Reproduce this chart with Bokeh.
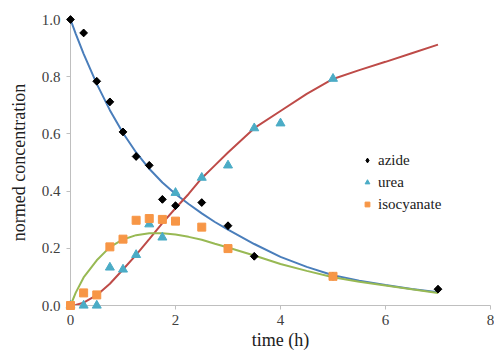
import math
from bokeh.plotting import figure
from bokeh.models import Legend, LegendItem, FixedTicker, NumeralTickFormatter, Range1d
from bokeh.embed import file_html
from bokeh.resources import INLINE

# measured data
t_azide = [0, 0.25, 0.5, 0.75, 1.0, 1.25, 1.5, 1.75, 2.0, 2.5, 3.0, 3.5, 5.0, 7.0]
azide = [1.0, 0.953, 0.784, 0.712, 0.607, 0.521, 0.49, 0.371, 0.349, 0.36, 0.279, 0.172, 0.102, 0.057]

t_urea = [0, 0.25, 0.5, 0.75, 1.0, 1.25, 1.5, 1.75, 2.0, 2.5, 3.0, 3.5, 4.0, 5.0]
urea = [0.0, 0.0, 0.0, 0.133, 0.126, 0.177, 0.284, 0.238, 0.394, 0.447, 0.49, 0.62, 0.637, 0.793]

t_iso = [0, 0.25, 0.5, 0.75, 1.0, 1.25, 1.5, 1.75, 2.0, 2.5, 3.0, 5.0]
iso = [0.0, 0.044, 0.037, 0.205, 0.232, 0.298, 0.304, 0.301, 0.295, 0.274, 0.199, 0.102]

# fitted curves
t_fit = [0, 0.1, 0.25, 0.5, 0.75, 1.0, 1.25, 1.5, 1.75, 2.0, 2.25, 2.5, 2.75, 3.0,
         3.5, 4.0, 4.5, 5.0, 5.5, 6.0, 6.5, 7.0]
fit_azide = [1.0, 0.95, 0.88, 0.775, 0.683, 0.603, 0.535, 0.478, 0.43, 0.39, 0.355,
             0.322, 0.292, 0.265, 0.215, 0.17, 0.135, 0.106, 0.087, 0.072, 0.058, 0.046]
fit_urea = [0.0, 0.002, 0.01, 0.036, 0.076, 0.126, 0.177, 0.232, 0.288, 0.34, 0.39,
            0.445, 0.49, 0.535, 0.62, 0.68, 0.74, 0.792, 0.823, 0.852, 0.882, 0.912]
fit_iso = [0.0, 0.045, 0.098, 0.158, 0.204, 0.231, 0.246, 0.253, 0.253, 0.248, 0.24,
           0.23, 0.216, 0.203, 0.175, 0.145, 0.121, 0.099, 0.083, 0.07, 0.057, 0.044]

x_ticks = [0, 2, 4, 6, 8]
y_ticks = [0.0, 0.2, 0.4, 0.6, 0.8, 1.0]

SERIF = "'Liberation Serif', 'Times New Roman', serif"

p = figure(width=494, height=353, output_backend="svg", toolbar_location=None,
           x_range=Range1d(0, 8), y_range=Range1d(0, 1.0),
           min_border_left=70, min_border_right=4, min_border_top=19, min_border_bottom=48)
p.background_fill_color = "white"
p.outline_line_color = None
p.grid.visible = False

p.line(t_fit, fit_azide, line_color="#4A7EBB", line_width=2)
p.line(t_fit, fit_urea, line_color="#BE4B48", line_width=2)
p.line(t_fit, fit_iso, line_color="#98B954", line_width=2)

# small diamond (used for the legend), covered by the rotated squares on the plot
r_az_leg = p.scatter(t_azide, azide, marker="diamond", size=7,
                     fill_color="black", line_color="black")
r_az = p.scatter(t_azide, azide, marker="square", angle=math.pi / 4, size=5.5,
                 fill_color="black", line_color="black", level="overlay")
r_ur = p.scatter(t_urea, urea, marker="triangle", size=9,
                 fill_color="#4BACC6", line_color="#4BACC6", level="overlay")
r_is = p.scatter(t_iso, iso, marker="square", size=8,
                 fill_color="#F79646", line_color="#F79646", level="overlay")

for ax in (p.xaxis[0], p.yaxis[0]):
    ax.axis_line_color = "#BFBFBF"
    ax.major_tick_line_color = "#BFBFBF"
    ax.major_tick_out = 4
    ax.major_tick_in = 0
    ax.minor_tick_line_color = None
    ax.major_label_text_font = SERIF
    ax.major_label_text_font_size = "15px"
    ax.major_label_text_color = "#404040"
    ax.axis_label_text_font = SERIF
    ax.axis_label_text_font_size = "18px"
    ax.axis_label_text_font_style = "normal"
    ax.axis_label_text_color = "#202020"

p.xaxis.ticker = FixedTicker(ticks=x_ticks)
p.yaxis.ticker = FixedTicker(ticks=y_ticks)
p.yaxis.formatter = NumeralTickFormatter(format="0.0")
p.xaxis.axis_label = "time (h)"
p.yaxis.axis_label = "normed concentration"
p.xaxis.major_label_standoff = 5
p.xaxis.axis_label_standoff = 2
p.yaxis.major_label_standoff = 6
p.yaxis.axis_label_standoff = 10

legend = Legend(items=[LegendItem(label="azide", renderers=[r_az_leg]),
                       LegendItem(label="urea", renderers=[r_ur]),
                       LegendItem(label="isocyanate", renderers=[r_is])],
                location=(291, 91), border_line_color=None, background_fill_alpha=0,
                padding=0, margin=0, spacing=2, glyph_width=12, glyph_height=20,
                label_height=20, label_standoff=5,
                label_text_font="serif", label_text_font_size="15px",
                label_text_color="#202020")
p.add_layout(legend, "center")

open("out.html", "w").write(file_html(p, INLINE))
